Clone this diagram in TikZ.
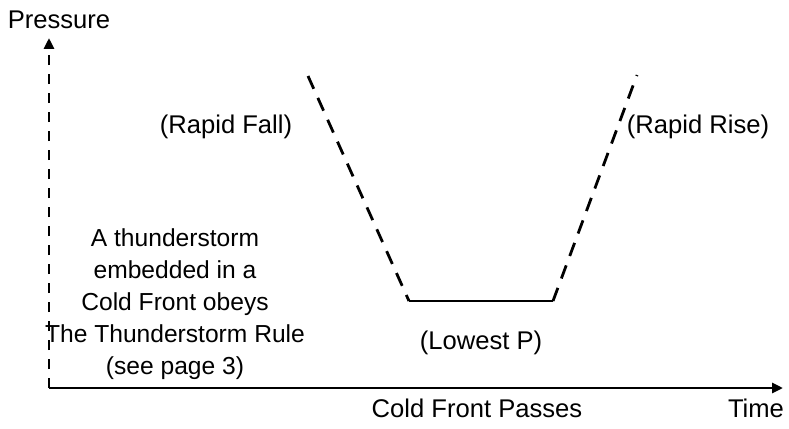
\documentclass[tikz,border=0pt]{standalone}
\usepackage{fontspec}
\setmainfont{Liberation Sans}
\usetikzlibrary{arrows.meta}
\begin{document}
\begin{tikzpicture}[x=1pt,y=-1pt,
  lbl/.style={font=\fontsize{25.6}{32}\selectfont, inner sep=0pt, align=center},
  notelbl/.style={font=\fontsize{24.6}{32}\selectfont, inner sep=0pt, align=center},
  axis/.style={line width=2.8pt, -{Triangle[length=11pt,width=10pt]}},
  curve/.style={line width=2.8pt, dash pattern=on 14pt off 10pt},
  base/.style={line width=2.8pt}]
\useasboundingbox (0,0) rectangle (789,428);
\coordinate (O) at (49,388);
\coordinate (Ytop) at (49,38);
\coordinate (Xend) at (783,388);
\coordinate (A) at (308,76);
\coordinate (B) at (409,301);
\coordinate (C) at (553,301);
\coordinate (D) at (637,75);
\draw[axis, dash pattern=on 10pt off 9pt] (O) -- (Ytop);
\draw[axis] (O) -- (Xend);
\draw[curve] (A) -- (B);
\draw[base] (B) -- (C);
\draw[curve] (C) -- (D);
\node[lbl] (pres) at (59,20) {Pressure};
\node[lbl] (time) at (756,408) {Time};
\node[lbl] (cfp) at (477,408) {Cold Front Passes};
\node[lbl] (fall) at (226,127) {(Rapid Fall)};
\node[lbl] (rise) at (698,127) {(Rapid Rise)};
\node[lbl] (low) at (481,343) {(Lowest P)};
\node[notelbl] (note) at (175,304) {A thunderstorm\\embedded in a\\Cold Front obeys\\The Thunderstorm Rule\\(see page 3)};
\end{tikzpicture}
\end{document}
